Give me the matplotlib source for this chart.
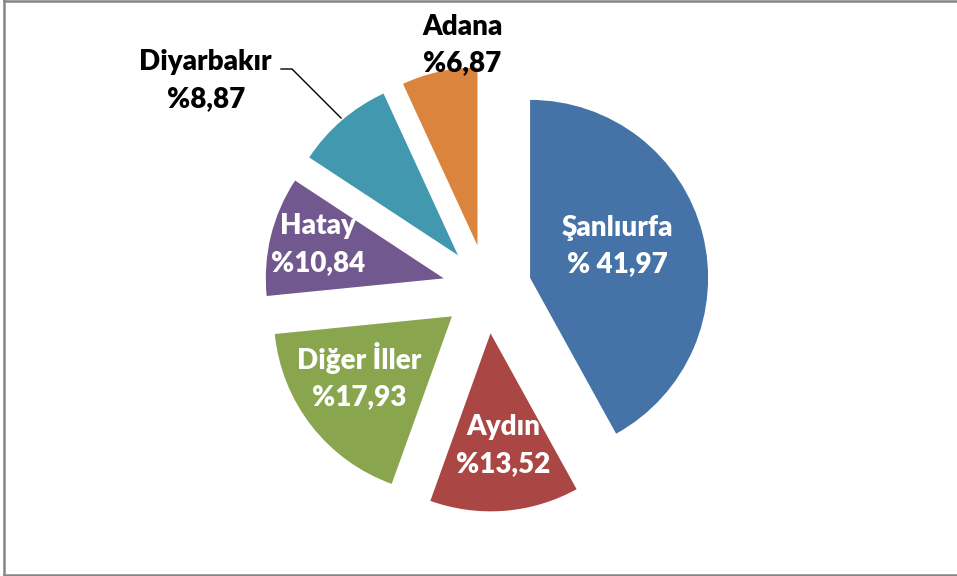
import matplotlib.pyplot as plt
from matplotlib.lines import Line2D

# Veriler
iller = ["Şanlıurfa", "Aydın", "Diğer İller", "Hatay", "Diyarbakır", "Adana"]
oranlar = [41.97, 13.52, 17.93, 10.84, 8.87, 6.87]
etiketler = ["Şanlıurfa\n% 41,97", "Aydın\n%13,52", "Diğer İller\n%17,93",
             "Hatay\n%10,84", "Diyarbakır\n%8,87", "Adana\n%6,87"]

renkler = ["#4572A7", "#AA4643", "#89A54E", "#71588F", "#4198AF", "#DB843D"]
yazi_renk = ["white", "white", "white", "white", "black", "black"]
# etiket konumlari (veri koordinatlari, yaricap = 1)
etiket_xy = [(0.73, 0.24), (0.09, -0.88), (-0.72, -0.49),
             (-0.95, 0.25), (-1.58, 1.17), (-0.14, 1.37)]

W, H = 957, 576
R = 178.0          # yaricap (piksel)
cx, cy = 487, 289  # merkez (piksel, ustten)

fig = plt.figure(figsize=(W / 100, H / 100), dpi=100)
ax = fig.add_axes([0, 0, 1, 1])

ax.pie(oranlar, colors=renkler, startangle=90, counterclock=False,
       explode=[0.25] * len(oranlar), radius=1, center=(0, 0),
       wedgeprops=dict(linewidth=0), frame=True)
ax.set_xlim(-cx / R, (W - cx) / R)
ax.set_ylim(-(H - cy) / R, cy / R)
ax.set_aspect('equal')
ax.axis('off')

for txt, (x, y), c in zip(etiketler, etiket_xy, yazi_renk):
    ax.text(x, y, txt, ha='center', va='center', color=c, fontsize=20,
            fontweight='heavy', family='Lato', linespacing=1.5)

# Diyarbakir icin kilavuz cizgi
ax.plot([(281 - cx) / R, (292 - cx) / R, (341 - cx) / R],
        [(cy - 69) / R, (cy - 69) / R, (cy - 118) / R],
        color='black', linewidth=1.0)

# Cerceve
cerceve = '#868686'
fig.add_artist(Line2D([4 / W, 4 / W], [0.5 / H, 1], color=cerceve, lw=1.8))
fig.add_artist(Line2D([4 / W, 1], [1 - 1 / H, 1 - 1 / H], color=cerceve, lw=1.8))
fig.add_artist(Line2D([4 / W, 1], [1.5 / H, 1.5 / H], color=cerceve, lw=1.8))

fig.savefig('out.png', dpi=100, facecolor='white')
